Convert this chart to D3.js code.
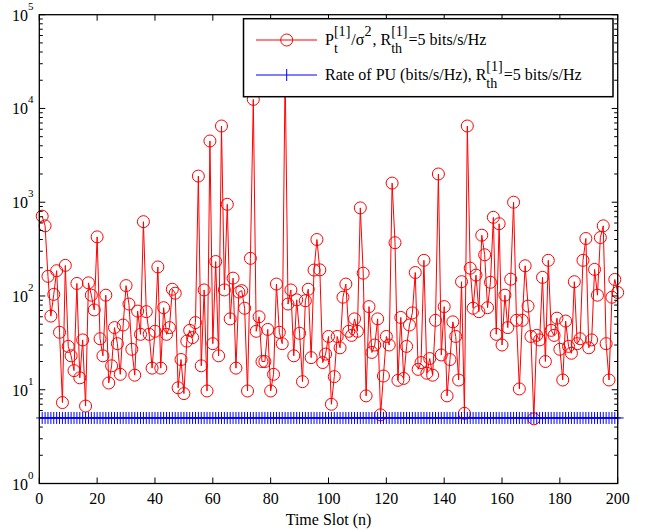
<!DOCTYPE html>
<html><head><meta charset="utf-8">
<script src="https://cdn.jsdelivr.net/npm/d3@7"></script>
<style>body{margin:0;background:#fff;} svg{display:block;}</style>
</head><body>
<svg id="chart" width="657" height="531"></svg>
<script>
// ---------- data ----------
const timeSlots = d3.range(1, 201);
const powerValues = [
  710, 560, 162, 61, 104, 186, 41, 7.3, 212, 29,
  23, 16, 136, 13.4, 34, 6.7, 138, 102, 71, 427,
  35, 23, 102, 11.8, 18, 46, 31, 14.6, 49, 129,
  82, 27, 14.3, 69, 39, 620, 68, 39, 17, 42,
  204, 17, 75, 39, 46, 118, 107, 10.5, 21, 9.1,
  33, 43, 36, 52, 1900, 18, 116, 9.7, 4500, 31,
  233, 23, 6500, 116, 950, 57, 155, 17, 110, 114,
  74, 9.7, 252, 12500, 42, 60, 20, 20, 44, 9.7,
  14.6, 134, 41, 31, 25000, 82, 116, 23, 91, 40,
  12.2, 89, 118, 22, 189, 400, 190, 19.5, 24, 37,
  7, 13.8, 37, 28, 97, 134, 42, 38, 57, 42,
  870, 175, 8.6, 77, 25, 30, 57, 5.4, 14, 37,
  30, 1600, 370, 12.6, 59, 13.2, 29, 49, 66, 178,
  16.5, 19.5, 240, 15, 21.5, 14.3, 55, 2000, 23.5, 77,
  8.6, 21, 53, 37, 12.7, 142, 5.6, 6500, 198, 74,
  167, 68, 445, 275, 75, 140, 690, 39, 590, 30,
  102, 46, 151, 1000, 55, 10.2, 55, 210, 78, 37,
  4.9, 38, 34, 158, 20, 240, 43, 38, 58, 27,
  12.7, 54, 29, 24.5, 142, 31, 35, 240, 410, 28,
  34, 192, 102, 420, 560, 31, 12.7, 97, 150, 109
];
const puRateValue = 5;               // constant rate of PU (bits/s/Hz)
const puRates = timeSlots.map(() => puRateValue);
const xTickValues = [0, 20, 40, 60, 80, 100, 120, 140, 160, 180, 200];
const yTickExponents = [0, 1, 2, 3, 4, 5];
const xLabel = "Time Slot (n)";

// ---------- layout ----------
const FONT = "'Liberation Serif', 'Times New Roman', Times, 'DejaVu Serif', serif";
const svg = d3.select("#chart").attr("font-family", FONT);
const W = 657, H = 531;
const L = 39.3, R = 617.7, T = 14.7, B = 483.5;
const x = d3.scaleLinear().domain([0, 200]).range([L, R]);
const y = d3.scaleLog().domain([1, 1e5]).range([B, T]);

svg.append("rect").attr("width", W).attr("height", H).attr("fill", "#fff");

const plot = svg.append("g");

// red series
const line = d3.line().x((d, i) => x(timeSlots[i])).y(d => y(d));
plot.append("path").datum(powerValues).attr("d", line)
  .attr("fill", "none").attr("stroke", "#ff0000").attr("stroke-width", 1);
plot.append("g").selectAll("circle").data(powerValues).join("circle")
  .attr("cx", (d, i) => x(timeSlots[i])).attr("cy", d => y(d)).attr("r", 6)
  .attr("fill", "none").attr("stroke", "#ff0000").attr("stroke-width", 1);

// blue series
plot.append("path").datum(puRates).attr("d", line)
  .attr("fill", "none").attr("stroke", "#0000ff").attr("stroke-width", 1);
const ms = 6;
plot.append("path").attr("d", puRates.map((d, i) => {
  const cx = x(timeSlots[i]), cy = y(d);
  return `M${cx},${cy - ms}V${cy + ms}M${cx - ms},${cy}H${cx + ms}`;
}).join("")).attr("fill", "none").attr("stroke", "#0000ff").attr("stroke-width", 1);

// ---------- axes ----------
const ax = svg.append("g");
const tickCol = "#000";
function txt(g) { return g.append("text").attr("font-family", FONT).attr("fill", "#000"); }
xTickValues.forEach(v => {
  const px = x(v);
  ax.append("line").attr("x1", px).attr("x2", px).attr("y1", B).attr("y2", B - 6).attr("stroke", tickCol);
  ax.append("line").attr("x1", px).attr("x2", px).attr("y1", T).attr("y2", T + 6).attr("stroke", tickCol);
  txt(ax).attr("x", px).attr("y", 503.5).attr("text-anchor", "middle")
    .attr("font-size", 16).text(v);
});
yTickExponents.forEach(e => {
  const py = y(Math.pow(10, e));
  ax.append("line").attr("x1", L).attr("x2", L + 6).attr("y1", py).attr("y2", py).attr("stroke", tickCol);
  ax.append("line").attr("x1", R).attr("x2", R - 6).attr("y1", py).attr("y2", py).attr("stroke", tickCol);
  const t = txt(ax).attr("x", 33.5).attr("y", py + 6).attr("text-anchor", "end").attr("font-size", 16);
  t.append("tspan").text("10");
  t.append("tspan").attr("font-size", 11).attr("dy", -11).text(e);
  if (e < 5) {
    for (let k = 2; k <= 9; k++) {
      const pm = y(k * Math.pow(10, e));
      ax.append("line").attr("x1", L).attr("x2", L + 3.5).attr("y1", pm).attr("y2", pm).attr("stroke", tickCol);
      ax.append("line").attr("x1", R).attr("x2", R - 3.5).attr("y1", pm).attr("y2", pm).attr("stroke", tickCol);
    }
  }
});
ax.append("rect").attr("x", L).attr("y", T).attr("width", R - L).attr("height", B - T)
  .attr("fill", "none").attr("stroke", "#000").attr("stroke-width", 1.3);

txt(ax).attr("x", (L + R) / 2).attr("y", 525).attr("text-anchor", "middle")
  .attr("font-size", 16).text(xLabel);

// ---------- legend ----------
const lg = svg.append("g");
lg.append("rect").attr("x", 243.5).attr("y", 18.7).attr("width", 369.5).attr("height", 78)
  .attr("fill", "#fff").attr("stroke", "#000").attr("stroke-width", 1.5);

function rich(g, x0, yb, parts, fs) {
  let cx = x0;
  const ss = fs * 0.88;
  parts.forEach(p => {
    if (typeof p === "string") {
      const t = txt(g).attr("x", cx).attr("y", yb).attr("font-size", fs).text(p);
      cx += t.node().getComputedTextLength();
    } else {
      let w = 0;
      if (p.sub) {
        const t = txt(g).attr("x", cx).attr("y", yb + fs * 0.5).attr("font-size", ss).text(p.sub);
        w = Math.max(w, t.node().getComputedTextLength());
      }
      if (p.sup) {
        const t = txt(g).attr("x", cx).attr("y", yb - fs * 0.55).attr("font-size", ss).text(p.sup);
        w = Math.max(w, t.node().getComputedTextLength());
      }
      cx += w + 1;
    }
  });
}
const row1 = 40, row2 = 75;
lg.append("line").attr("x1", 256).attr("x2", 317).attr("y1", row1).attr("y2", row1).attr("stroke", "#ff0000");
lg.append("circle").attr("cx", 286.7).attr("cy", row1).attr("r", 6).attr("fill", "none").attr("stroke", "#ff0000");
rich(lg, 325, row1 + 5, ["P", {sub: "t", sup: "[1]"}, "/σ", {sup: "2"}, ", R", {sub: "th", sup: "[1]"}, "=5 bits/s/Hz"], 16);
lg.append("line").attr("x1", 256).attr("x2", 317).attr("y1", row2).attr("y2", row2).attr("stroke", "#0000ff");
lg.append("path").attr("d", `M286.7,${row2 - 6}V${row2 + 6}`).attr("stroke", "#0000ff");
rich(lg, 325, row2 + 5, ["Rate of PU (bits/s/Hz), R", {sub: "th", sup: "[1]"}, "=5 bits/s/Hz"], 16);
</script>
</body></html>
